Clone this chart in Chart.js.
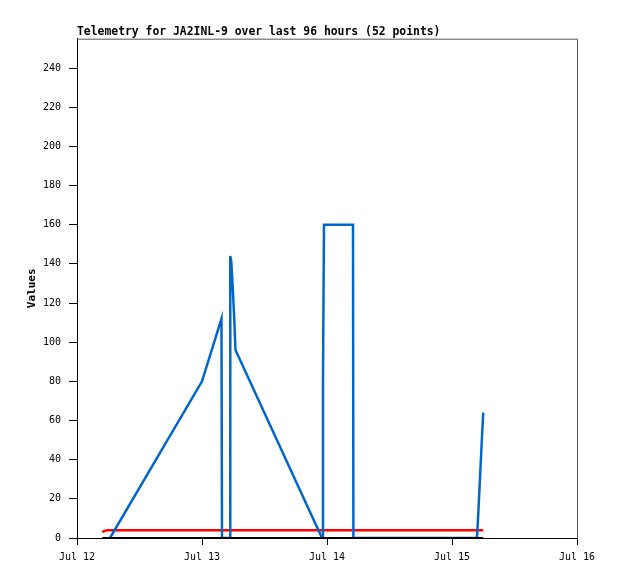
<!DOCTYPE html>
<html>
<head>
<meta charset="utf-8">
<script src="https://cdn.jsdelivr.net/npm/chart.js@4/dist/chart.umd.min.js"></script>
<style>
  html, body { margin: 0; padding: 0; background: #fff; }
  #wrap { width: 618px; height: 579px; }
</style>
</head>
<body>
<div id="wrap"><canvas id="chartTelemetry"></canvas></div>
<script>
// horas desde Jul 12 00:00
const dayLabels = ['Jul 12', 'Jul 13', 'Jul 14', 'Jul 15', 'Jul 16'];
const yTicks = [0, 20, 40, 60, 80, 100, 120, 140, 160, 180, 200, 220, 240];

const blueHours = [6.34, 24.0, 27.74, 27.84, 29.38, 29.43, 29.63, 29.86, 30.14, 30.43, 47.04, 47.23, 47.42, 52.99, 53.07, 76.8, 77.0, 77.2, 77.4, 77.6, 77.8, 78.0];
const blueValues = [0, 80, 112, 0, 0, 144, 141, 130, 115, 96, 0, 80, 160, 160, 0, 0, 10, 21, 32, 43, 54, 64];

const redHours = [4.86, 5.2, 5.8, 78.0];
const redValues = [3, 3.5, 4, 4];

const blackHours = [4.86, 78.0];
const blackValues = [0, 0];

const toPoints = (xs, ys) => xs.map((x, i) => ({ x: x, y: ys[i] }));

// borda cinza em cima e na direita
const frame = {
  id: 'frame',
  afterDraw(chart) {
    const { ctx, chartArea: a } = chart;
    ctx.save();
    ctx.strokeStyle = '#555555';
    ctx.lineWidth = 1;
    ctx.beginPath();
    ctx.moveTo(a.left, a.top + 0.5);
    ctx.lineTo(a.right + 0.5, a.top + 0.5);
    ctx.lineTo(a.right + 0.5, a.bottom);
    ctx.stroke();
    ctx.restore();
  }
};

const mono = 'DejaVu Sans Mono';

const context = document.getElementById('chartTelemetry');
const chartTelemetry = new Chart(context, {
  type: 'line',
  data: {
    datasets: [{
      data: toPoints(blackHours, blackValues),
      borderColor: '#000000',
      borderWidth: 2,
      order: 1
    }, {
      data: toPoints(blueHours, blueValues),
      borderColor: '#0066cc',
      borderWidth: 2.5,
      order: 2
    }, {
      data: toPoints(redHours, redValues),
      borderColor: '#ff0000',
      borderWidth: 2.5,
      order: 3
    }]
  },
  options: {
    responsive: true,
    maintainAspectRatio: false,
    animation: false,
    layout: { padding: { left: 0, right: 41, top: 0, bottom: 0 } },
    elements: {
      point: { radius: 0, hoverRadius: 0 },
      line: { tension: 0 }
    },
    scales: {
      x: {
        type: 'linear',
        min: 0,
        max: 96,
        afterFit(scale) { scale.height = 41; },
        grid: { drawOnChartArea: false, drawTicks: true, tickLength: 7, color: '#000' },
        border: { color: '#000', width: 1 },
        ticks: {
          stepSize: 24,
          padding: 6,
          color: '#000',
          font: { family: mono, size: 10 },
          maxRotation: 0,
          callback: (v) => dayLabels[v / 24]
        }
      },
      y: {
        min: 0,
        max: 255,
        afterFit(scale) { scale.width = 77; },
        afterBuildTicks(scale) { scale.ticks = yTicks.map(v => ({ value: v })); },
        grid: { drawOnChartArea: false, drawTicks: true, tickLength: 8, color: '#000' },
        border: { color: '#000', width: 1 },
        ticks: {
          padding: 8,
          color: '#000',
          font: { family: mono, size: 10 }
        },
        title: {
          display: true,
          text: 'Values',
          color: '#000',
          font: { family: mono, size: 11, weight: 'bold' },
          padding: { top: 26, bottom: 0 }
        }
      }
    },
    plugins: {
      legend: { display: false },
      tooltip: { enabled: false },
      title: {
        display: true,
        text: 'Telemetry for JA2INL-9 over last 96 hours (52 points)',
        align: 'start',
        fullSize: false,
        color: '#000',
        font: { family: mono, size: 11.4, weight: 'bold' },
        padding: { top: 25, bottom: 0 }
      }
    }
  },
  plugins: [frame]
});
</script>
</body>
</html>
